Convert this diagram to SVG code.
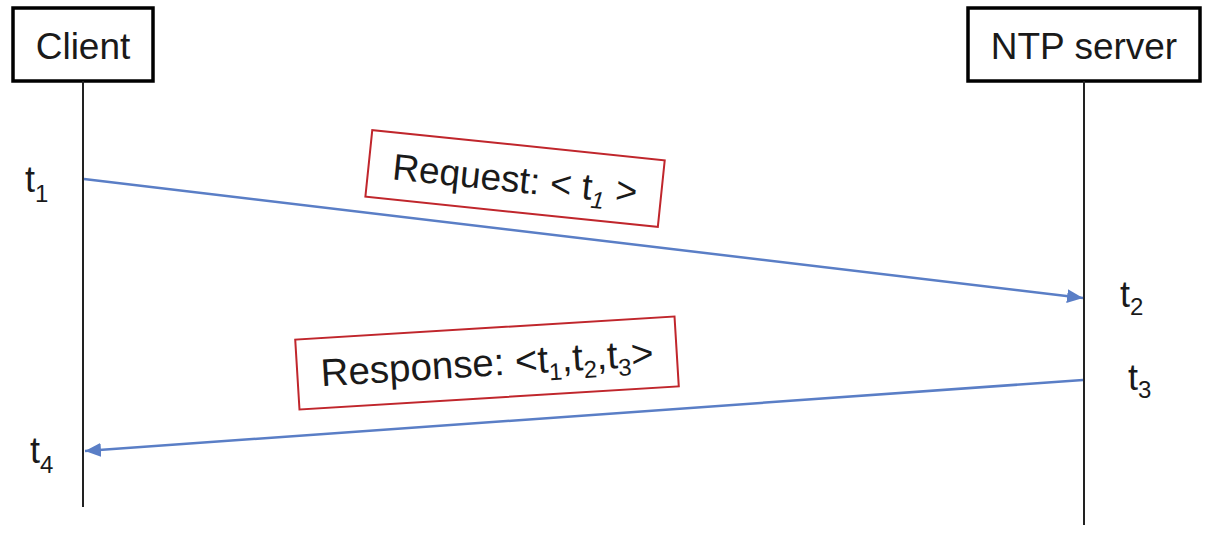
<svg xmlns="http://www.w3.org/2000/svg" width="1210" height="534" viewBox="0 0 1210 534">
<style>
text{font-family:"Liberation Sans",Arial,sans-serif;fill:#1a1a1a}
.actor{fill:#fff;stroke:#000;stroke-width:3.5}
.life{stroke:#222;stroke-width:2;fill:none}
.msg{stroke:#5a7ec6;stroke-width:2.5;fill:none}
.lbl{fill:#fff;stroke:#c0262c;stroke-width:2}
.big{font-size:37px}
.resp{font-size:38.5px}
.tl{font-size:36px}
.sub{font-size:24px}
</style>
<defs>
<marker id="ah" markerUnits="userSpaceOnUse" markerWidth="18" markerHeight="14" refX="16" refY="7" orient="auto">
<path d="M0,0 L16,7 L0,14 Z" fill="#5a7ec6"/>
</marker>
</defs>
<g id="client">
<rect class="actor" x="13" y="8" width="140" height="73"/>
<text class="big" x="83" y="59" text-anchor="middle">Client</text>
<line class="life" x1="83" y1="81" x2="83" y2="507"/>
</g>
<g id="server">
<rect class="actor" x="968" y="8" width="232" height="73"/>
<text class="big" x="1084" y="59" text-anchor="middle">NTP server</text>
<line class="life" x1="1084" y1="81" x2="1084" y2="525"/>
</g>
<g id="connectors">
<line class="msg" x1="84" y1="179" x2="1083" y2="298" marker-end="url(#ah)"/>
<line class="msg" x1="1083" y1="380" x2="85" y2="451" marker-end="url(#ah)"/>
</g>
<g id="request-label" transform="translate(515,179) rotate(5.9)">
<rect class="lbl" x="-147" y="-34" width="294" height="67"/>
<text class="big" x="0" y="13" text-anchor="middle">Request: &lt; t<tspan class="sub" font-style="italic" dy="8">1</tspan><tspan dy="-8"> &gt;</tspan></text>
</g>
<g id="response-label" transform="translate(487,363) rotate(-3.5)">
<rect class="lbl" x="-190" y="-35" width="380" height="70"/>
<text class="resp" x="0" y="13" text-anchor="middle">Response: &lt;t<tspan class="sub" dy="8">1</tspan><tspan dy="-8">,t</tspan><tspan class="sub" dy="8">2</tspan><tspan dy="-8">,t</tspan><tspan class="sub" dy="8">3</tspan><tspan dy="-8">&gt;</tspan></text>
</g>
<g id="t1"><text class="tl" x="25" y="192">t<tspan class="sub" dy="10">1</tspan></text></g>
<g id="t2"><text class="tl" x="1120" y="307">t<tspan class="sub" dy="8">2</tspan></text></g>
<g id="t3"><text class="tl" x="1128" y="390">t<tspan class="sub" dy="8">3</tspan></text></g>
<g id="t4"><text class="tl" x="30" y="463">t<tspan class="sub" dy="10">4</tspan></text></g>
</svg>
